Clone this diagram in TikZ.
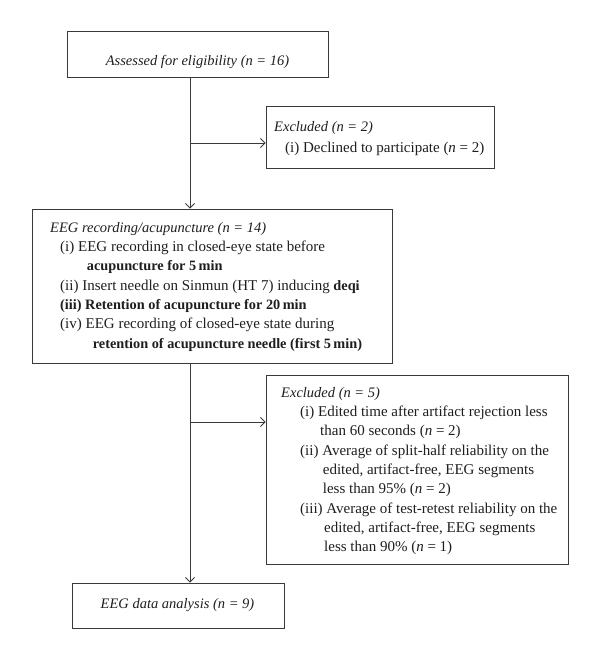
\documentclass[tikz,border=0pt]{standalone}
\usepackage{fontspec}
\setmainfont{Liberation Serif}
\usetikzlibrary{arrows.meta}
\definecolor{lc}{HTML}{3A3A3A}
\definecolor{tc}{HTML}{1E1E1E}
\newcommand{\itf}{\fontsize{14.5}{16}\selectfont\itshape}
\newcommand{\bff}{\fontsize{14.3}{16}\selectfont\bfseries}
\tikzset{
  box/.style={draw=lc, line width=0.9pt, rectangle, inner sep=0pt},
  ln/.style={anchor=base west, inner sep=0pt, text=tc, font=\fontsize{15}{16}\selectfont},
  lnc/.style={anchor=base, inner sep=0pt, text=tc, font=\fontsize{15}{16}\selectfont},
  conn/.style={draw=lc, line width=0.9pt},
  arr/.style={conn, -{Straight Barb[length=4.5pt,width=9pt]}}
}
\begin{document}
\begin{tikzpicture}[x=1pt,y=-1pt]
\useasboundingbox (0,0) rectangle (599,660);
% boxes
\node[box, minimum width=261pt, minimum height=46pt] (b1) at (197.5,54) {};
\node[box, minimum width=228pt, minimum height=62pt] (b2) at (380,137) {};
\node[box, minimum width=360pt, minimum height=154pt] (b3) at (212,286) {};
\node[box, minimum width=302pt, minimum height=189pt] (b4) at (417,469.5) {};
\node[box, minimum width=212pt, minimum height=45pt] (b5) at (178,605.5) {};
% spine and junctions
\coordinate (sp) at (190,0);
\coordinate (j1) at (190,143);
\coordinate (j2) at (190,422);
% box 1 text
\node[lnc] (t1) at (197.5,65.5) {\itf Assessed for eligibility (n = 16)};
% box 2 text
\node[ln] (t2a) at (274,131.5) {\itf Excluded (n = 2)};
\node[ln] (t2b) at (285,153) {(i) Declined to participate (\textit{n} = 2)};
% box 3 text
\node[ln] (t3a) at (50,232.3) {\itf EEG recording/acupuncture (n = 14)};
\node[ln] (t3b) at (60,251.6) {(i) EEG recording in closed-eye state before};
\node[ln] (t3c) at (86.7,270.9) {\bff acupuncture for 5\,min};
\node[ln] (t3d) at (60,290.2) {(ii) Insert needle on Sinmun (HT 7) inducing {\bff deqi}};
\node[ln] (t3e) at (60,309.5) {\bff (iii) Retention of acupuncture for 20\,min};
\node[ln] (t3f) at (60,328.8) {(iv) EEG recording of closed-eye state during};
\node[ln] (t3g) at (92.7,348.1) {\bff retention of acupuncture needle (first 5\,min)};
% box 4 text
\node[ln] (t4a) at (281,397.3) {\itf Excluded (n = 5)};
\node[ln] (t4b) at (300,416.6) {(i) Edited time after artifact rejection less};
\node[ln] (t4c) at (320,435.9) {than 60 seconds (\textit{n} = 2)};
\node[ln] (t4d) at (300,455.2) {(ii) Average of split-half reliability on the};
\node[ln] (t4e) at (322.7,474.5) {edited, artifact-free, EEG segments};
\node[ln] (t4f) at (322.7,493.8) {less than 95\% (\textit{n} = 2)};
\node[ln] (t4g) at (300,513.1) {(iii) Average of test-retest reliability on the};
\node[ln] (t4h) at (324,532.4) {edited, artifact-free, EEG segments};
\node[ln] (t4i) at (324,551.7) {less than 90\% (\textit{n} = 1)};
% box 5 text
\node[lnc] (t5) at (177.5,608.3) {\itf EEG data analysis (n = 9)};
% connectors
\draw[arr] (sp |- b1.south) -- (sp |- b3.north);
\draw[arr] (j1) -- (j1 -| b2.west);
\draw[arr] (sp |- b3.south) -- (sp |- b5.north);
\draw[arr] (j2) -- (j2 -| b4.west);
\end{tikzpicture}
\end{document}
